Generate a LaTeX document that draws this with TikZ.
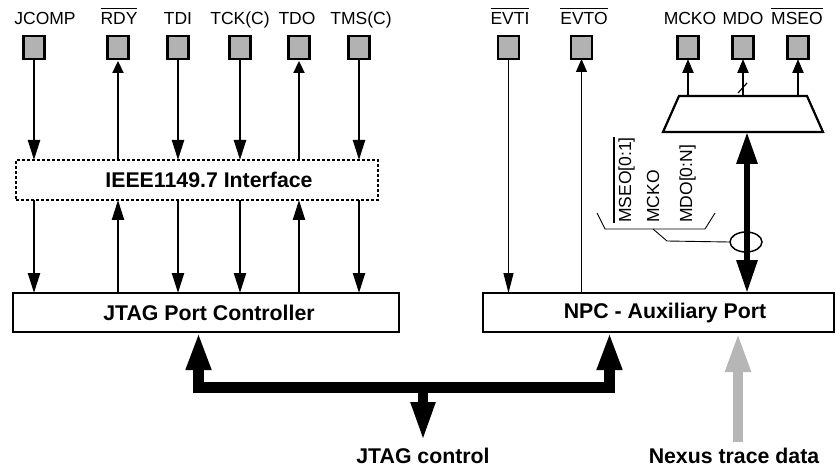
\documentclass[tikz,border=0pt]{standalone}
\usepackage{fontspec}
\setmainfont{Liberation Sans}
\usetikzlibrary{arrows.meta,shapes.geometric}
\definecolor{padgray}{RGB}{178,178,178}
\definecolor{tracegray}{RGB}{182,182,182}
\newcommand\labfont{\fontsize{17.5}{20}\selectfont}
\newcommand\boldlab{\fontsize{21.3}{24}\selectfont\bfseries}
\newcommand\ovl[1]{\leavevmode\vbox{\hrule height 1.4pt\kern 3.5pt\hbox{#1}}}
\tikzset{
  pad/.style={draw, line width=2.2pt, fill=padgray, minimum width=21pt, minimum height=23pt, inner sep=0pt, outer sep=0pt},
  lab/.style={anchor=base, inner sep=0pt, font=\labfont},
  rlab/.style={anchor=base west, rotate=90, inner sep=0pt, font=\labfont},
  blab/.style={anchor=base, inner sep=0pt, font=\boldlab},
  boxn/.style={draw, line width=2.2pt, inner sep=0pt, outer sep=0pt, font=\boldlab},
  sig/.style={line width=2.3pt},
  thin sig/.style={line width=1.2pt},
  tipS/.style={-{Triangle[length=12pt,width=11pt]}},
  tipL/.style={-{Triangle[length=20pt,width=12pt]}},
}
\begin{document}
\begin{tikzpicture}[x=1pt,y=-1pt]
\useasboundingbox (0,0) rectangle (836,468);
% pads
\node[pad] (jcomp) at (34,47.5) {};
\node[pad] (rdy) at (118,47.5) {};
\node[pad] (tdi) at (178,47.5) {};
\node[pad] (tck) at (240,47.5) {};
\node[pad] (tdo) at (299,47.5) {};
\node[pad] (tms) at (359,47.5) {};
\node[pad] (evti) at (508.5,47.5) {};
\node[pad] (evto) at (581.5,47.5) {};
\node[pad] (mcko) at (688,47.5) {};
\node[pad] (mdo) at (743,47.5) {};
\node[pad] (mseo) at (798,47.5) {};
% pad labels
\node[lab] (ljcomp) at (45,25) {JCOMP};
\node[lab] (lrdy) at (119,25) {\ovl{RDY}};
\node[lab] (ltdi) at (178,25) {TDI};
\node[lab] (ltck) at (240,25) {TCK(C)};
\node[lab] (ltdo) at (297,25) {TDO};
\node[lab] (ltms) at (361,25) {TMS(C)};
\node[lab] (levti) at (510,25) {\ovl{EVTI}};
\node[lab] (levto) at (584,25) {\ovl{EVTO}};
\node[lab] (lmcko) at (690,25) {MCKO};
\node[lab] (lmdo) at (743,25) {MDO};
\node[lab] (lmseo) at (797,25) {\ovl{MSEO}};
% boxes
\node[boxn, dashed, dash pattern=on 3pt off 2pt, line width=1.5pt, minimum width=362pt, minimum height=40pt] (iface) at (197,180) {\hspace*{24pt}IEEE1149.7 Interface};
\node[boxn, minimum width=386pt, minimum height=39pt] (jpc) at (206,312.5) {\hspace*{6pt}JTAG Port Controller};
\node[boxn, minimum width=351pt, minimum height=39pt] (npc) at (658.5,312.5) {\hspace*{13pt}NPC - Auxiliary Port};
% trapezium (multiplexer)
\coordinate (trapN) at (743,96);
\coordinate (trapS) at (743,132);
\draw[line width=2.2pt, line join=miter] (679,96) -- (807,96) -- (823,132) -- (663,132) -- cycle;
% JTAG signals, upper
\draw[sig, tipL] (jcomp.south) -- (jcomp.south |- iface.north);
\draw[sig, tipS] (rdy.south |- iface.north) -- ([yshift=-2pt]rdy.south);
\draw[sig, tipL] (tdi.south) -- (tdi.south |- iface.north);
\draw[sig, tipL] (tck.south) -- (tck.south |- iface.north);
\draw[sig, tipS] (tdo.south |- iface.north) -- ([yshift=-2pt]tdo.south);
\draw[sig, tipL] (tms.south) -- (tms.south |- iface.north);
% JTAG signals, lower
\draw[sig, tipL] (jcomp.south |- iface.south) -- (jcomp.south |- jpc.north);
\draw[sig, tipL] (jpc.north -| rdy.south) -- (rdy.south |- iface.south);
\draw[sig, tipL] (tdi.south |- iface.south) -- (tdi.south |- jpc.north);
\draw[sig, tipL] (tck.south |- iface.south) -- (tck.south |- jpc.north);
\draw[sig, tipL] (jpc.north -| tdo.south) -- (tdo.south |- iface.south);
\draw[sig, tipL] (tms.south |- iface.south) -- (tms.south |- jpc.north);
% EVTI / EVTO
\draw[thin sig, -{Triangle[length=20pt,width=10pt]}] (evti.south) -- (evti.south |- npc.north);
\draw[thin sig, -{Triangle[length=13pt,width=11pt]}] (evto.south |- npc.north) -- (evto.south);
% trapezium outputs
\draw[sig, -{Triangle[length=14pt,width=11pt]}] (mcko.south |- trapN) -- (mcko.south);
\draw[sig, -{Triangle[length=14pt,width=11pt]}] (mdo.south |- trapN) -- (mdo.south);
\draw[sig, -{Triangle[length=14pt,width=11pt]}] (mseo.south |- trapN) -- (mseo.south);
\coordinate (sl1) at (738,93);
\coordinate (sl2) at (747,83);
\draw[line width=1.2pt] (sl1) -- (sl2);
% trace bus to trapezium
\coordinate (tb) at ([xshift=4pt]trapS);
\draw[line width=6pt, {Triangle[length=32pt,width=20pt]}-{Triangle[length=33pt,width=20pt]}] (tb) -- (tb |- npc.north);
\node[draw, ellipse, line width=1.5pt, minimum width=32pt, minimum height=20pt, inner sep=0pt] (ell) at (746,242) {};
% bracket
\coordinate (br1) at (597,213);
\coordinate (br2) at (605,229);
\coordinate (br3) at (705,229);
\coordinate (br4) at (715,213);
\coordinate (brm) at (653,229);
\coordinate (brk) at (667,241);
\draw[line width=0.9pt] (br1) -- (br2) -- (br3) -- (br4);
\draw[line width=0.9pt] (brm) -- (brk) -- (ell.west);
\node[rlab] (rmseo) at (631,223) {\ovl{MSEO[0:1]}};
\node[rlab] (rmcko) at (659,223) {MCKO};
\node[rlab] (rmdo) at (692,223) {MDO[0:N]};
% JTAG control bus
\coordinate (bl) at (198.5,387);
\coordinate (brr) at (609.5,387);
\draw[line width=11pt, line join=miter, {Triangle[length=38pt,width=23pt]}-{Triangle[length=38pt,width=23pt]}] (bl |- jpc.south) -- (bl) -- (brr) -- (brr |- npc.south);
\coordinate (bd0) at (423,387);
\coordinate (bd1) at (423,442);
\draw[line width=10pt, -{Triangle[length=40pt,width=22pt]}] (bd0) -- (bd1);
\node[blab] (jtagctl) at (423,463) {JTAG control};
% Nexus trace data
\coordinate (nx) at (738,442);
\draw[line width=10pt, tracegray, -{Triangle[length=40pt,width=23pt]}] (nx) -- (nx |- npc.south);
\node[blab] (nexus) at (734,463) {Nexus trace data};
\end{tikzpicture}
\end{document}
